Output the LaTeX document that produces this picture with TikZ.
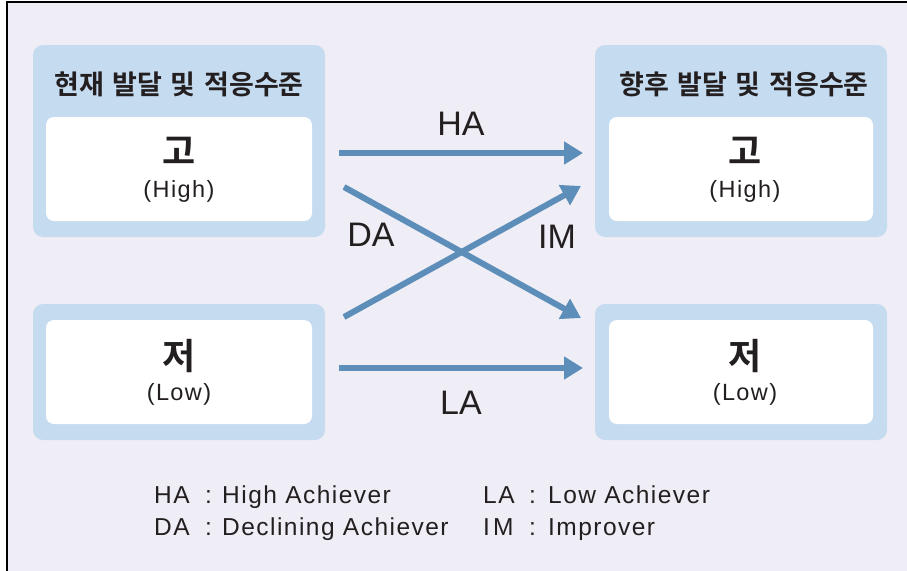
\documentclass[tikz,border=0pt]{standalone}
\usepackage{fontspec}
\setmainfont{Liberation Sans}[LetterSpace=6]
\newfontfamily\labfont{Liberation Sans}
\newfontfamily\kr{Noto Sans CJK KR}[BoldFont={Noto Sans CJK KR Bold}]
\usetikzlibrary{arrows.meta}
\definecolor{bgcol}{RGB}{239,237,245}
\definecolor{boxblue}{RGB}{197,219,240}
\definecolor{arrowblue}{RGB}{92,142,185}
\definecolor{txt}{RGB}{35,31,32}
\tikzset{
  outerbox/.style={fill=boxblue, rounded corners=10pt, inner sep=0pt, minimum width=292pt},
  innerbox/.style={fill=white, rounded corners=8pt, inner sep=0pt, minimum height=104pt},
  titletext/.style={text=txt, inner sep=0pt, font=\kr\bfseries\fontsize{27}{30}\selectfont},
  bigkr/.style={text=txt, inner sep=0pt, font=\kr\bfseries\fontsize{36}{40}\selectfont},
  subtext/.style={text=txt, inner sep=0pt, anchor=base, font=\fontsize{23.5}{26}\selectfont},
  arrlabel/.style={text=txt, inner sep=0pt, font=\labfont\fontsize{34}{38}\selectfont},
  legend/.style={text=txt, inner sep=0pt, anchor=base west, font=\fontsize{24.5}{28}\selectfont},
  flow/.style={draw=arrowblue, line width=6pt, -{Triangle[length=19pt,width=22pt]}}
}
\newcommand{\kgap}{\hspace{0.32em}}
\begin{document}
\begin{tikzpicture}[x=1pt,y=-1pt]
\useasboundingbox (0,0) rectangle (907,570);
\clip (0,0) rectangle (907,570);
\fill[white] (0,0) rectangle (907,570);
\filldraw[fill=bgcol, draw=black, line width=2pt] (7,2) rectangle (930,600);

% boxes
\node[outerbox, minimum height=192pt] (lhout) at (179,141) {};
\node[innerbox, minimum width=266pt] (lhin) at (179,169) {};
\node[outerbox, minimum height=136pt] (llout) at (179,372) {};
\node[innerbox, minimum width=266pt] (llin) at (179,372) {};
\node[outerbox, minimum height=192pt] (rhout) at (741,141) {};
\node[innerbox, minimum width=264pt] (rhin) at (741,169) {};
\node[outerbox, minimum height=136pt] (rlout) at (741,372) {};
\node[innerbox, minimum width=264pt] (rlin) at (741,372) {};

% titles
\node[titletext] (ltitle) at (179,84.5) {현재\kgap 발달\kgap 및\kgap 적응수준};
\node[titletext] (rtitle) at (744,84.5) {향후\kgap 발달\kgap 및\kgap 적응수준};

% box contents
\node[bigkr] (lgo) at (179,150.5) {고};
\node[subtext] (lhigh) at (179,197) {(High)};
\node[bigkr] (rgo) at (745,150.5) {고};
\node[subtext] (rhigh) at (745,197) {(High)};
\node[bigkr] (ljeo) at (179,356) {저};
\node[subtext] (llow) at (179,400) {(Low)};
\node[bigkr] (rjeo) at (745,356) {저};
\node[subtext] (rlow) at (745,400) {(Low)};

% arrows
\coordinate (haS) at (339,153); \coordinate (haE) at (583,153);
\coordinate (daS) at (344,187); \coordinate (daE) at (581,318);
\coordinate (imS) at (344,317); \coordinate (imE) at (581,186);
\coordinate (laS) at (339,368); \coordinate (laE) at (583,368);
\draw[flow] (haS) -- (haE);
\draw[flow] (daS) -- (daE);
\draw[flow] (imS) -- (imE);
\draw[flow] (laS) -- (laE);

\node[arrlabel] (halab) at (461,124) {HA};
\node[arrlabel] (dalab) at (371,235) {DA};
\node[arrlabel] (imlab) at (557,237) {IM};
\node[arrlabel] (lalab) at (461,403) {LA};

% legend
\node[legend] (leg1) at (154,503) {\makebox[51pt][l]{HA}\makebox[17pt][l]{:}High Achiever};
\node[legend] (leg2) at (154,535) {\makebox[51pt][l]{DA}\makebox[17pt][l]{:}Declining Achiever};
\node[legend] (leg3) at (483,503) {\makebox[46pt][l]{LA}\makebox[19pt][l]{:}Low Achiever};
\node[legend] (leg4) at (483,535) {\makebox[46pt][l]{I\hspace{3pt}M}\makebox[19pt][l]{:}Improver};
\end{tikzpicture}
\end{document}
